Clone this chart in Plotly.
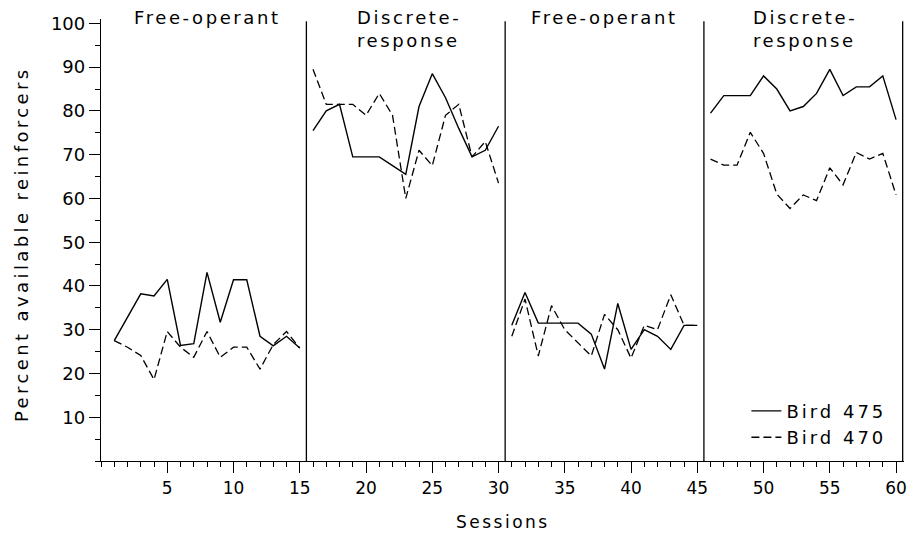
import plotly.graph_objects as go

# ---- data ----
phase_sessions = [
    list(range(1, 16)),
    list(range(16, 31)),
    list(range(31, 46)),
    list(range(46, 61)),
]
bird475 = [
    [27.5, 33, 38.2, 37.7, 41.5, 26.4, 26.8, 43.1, 31.7, 41.4, 41.4, 28.5, 26.3, 28.5, 25.8],
    [75.5, 80, 81.5, 69.5, 69.5, 69.5, 67.5, 65.5, 81, 88.5, 83, 76, 69.5, 71, 76.5],
    [31, 38.5, 31.5, 31.5, 31.5, 31.5, 29, 21, 36, 25.5, 30, 28.5, 25.5, 31, 31],
    [79.5, 83.5, 83.5, 83.5, 88, 85, 80, 81, 84, 89.5, 83.5, 85.5, 85.5, 88, 78],
]
bird470 = [
    [27.5, 26, 24.1, 18.6, 29.6, 26, 23.7, 29.6, 23.7, 26, 26, 21, 26.6, 29.6, 25.8],
    [89.5, 81.5, 81.5, 81.5, 79, 84, 79, 60, 71, 67.5, 79, 81.5, 69.5, 73, 63.5],
    [28.5, 37, 24, 35.5, 30, 27, 24, 33.5, 30, 23.5, 31, 30, 38, 31, 31],
    [69, 67.6, 67.6, 75.1, 70.3, 61, 57.7, 60.8, 59.5, 67, 63.1, 70.5, 69, 70.3, 60.8],
]
phase_labels = ["Free-operant", "Discrete-<br>response", "Free-operant", "Discrete-<br>response"]
phase_bounds = [15.5, 30.5, 45.5, 60.5]
x_ticks = [5, 10, 15, 20, 25, 30, 35, 40, 45, 50, 55, 60]
y_ticks = [10, 20, 30, 40, 50, 60, 70, 80, 90, 100]


def join(series):
    xs, ys = [], []
    for s, v in zip(phase_sessions, series):
        xs += s + [None]
        ys += v + [None]
    return xs, ys


def spaced(t, px):
    return '<span style="letter-spacing:%spx">%s</span>' % (px, t)


FONT = "DejaVu Sans"
fig = go.Figure()
x1, y1 = join(bird475)
x2, y2 = join(bird470)
fig.add_trace(go.Scatter(x=x1, y=y1, mode="lines", name=spaced("Bird 475", 3),
                         line=dict(color="black", width=1.4), connectgaps=False))
fig.add_trace(go.Scatter(x=x2, y=y2, mode="lines", name=spaced("Bird 470", 3),
                         line=dict(color="black", width=1.3, dash="8px,4px"), connectgaps=False))

for b in phase_bounds:
    fig.add_shape(type="line", x0=b, x1=b, y0=0, y1=100.5, xref="x", yref="y",
                  line=dict(color="black", width=1.3))

label_x = [208, 356, 607, 754]
for i, (lab, px) in enumerate(zip(phase_labels, label_x)):
    centered = i % 2 == 0
    parts = lab.split("<br>")
    txt = "<br>".join(spaced(p, 2.6) for p in parts)
    fig.add_annotation(text=txt, xref="paper", yref="paper",
                       x=(px - 101.2) / 806, y=(461.5 - 5) / 442.9,
                       xanchor="center" if centered else "left", yanchor="top",
                       align="left", showarrow=False,
                       font=dict(family=FONT, size=18, color="black"))

fig.add_annotation(text=spaced("Percent available reinforcers", 3.4), xref="paper", yref="paper",
                   x=(22 - 101.2) / 806, y=(461.5 - 244) / 442.9, textangle=-90,
                   xanchor="center", yanchor="middle", showarrow=False,
                   font=dict(family=FONT, size=18, color="black"))

fig.add_annotation(text=spaced("Sessions", 2.5), xref="paper", yref="paper",
                   x=0.5, y=(461.5 - 523) / 442.9,
                   xanchor="center", yanchor="middle", showarrow=False,
                   font=dict(family=FONT, size=17, color="black"))

fig.update_layout(
    width=913, height=540,
    margin=dict(l=101.2, r=5.8, t=18.6, b=78.5),
    paper_bgcolor="white", plot_bgcolor="white",
    font=dict(family=FONT, color="black"),
    showlegend=True,
    legend=dict(x=(749 - 101.2) / 806, y=(461.5 - 393) / 442.9, xanchor="left", yanchor="top",
                bgcolor="rgba(0,0,0,0)", font=dict(family=FONT, size=18, color="black"),
                itemwidth=30, tracegroupgap=0),
    xaxis=dict(range=[0, 60.6], tickvals=x_ticks, ticks="outside", ticklen=11, tickwidth=1.2,
               tickcolor="black", showline=True, linecolor="black", linewidth=1.3,
               showgrid=False, zeroline=False, tickfont=dict(family=FONT, size=17),
               minor=dict(dtick=1, tick0=0, ticks="outside", ticklen=5, tickcolor="black", showgrid=False)),
    yaxis=dict(range=[0, 101], tickvals=y_ticks, ticks="outside", ticklen=11, tickwidth=1.2,
               tickcolor="black", showline=True, linecolor="black", linewidth=1.3,
               showgrid=False, zeroline=False, tickfont=dict(family=FONT, size=18),
               minor=dict(dtick=5, tick0=0, ticks="outside", ticklen=5, tickcolor="black", showgrid=False)),
)

fig.write_html("out.html")
